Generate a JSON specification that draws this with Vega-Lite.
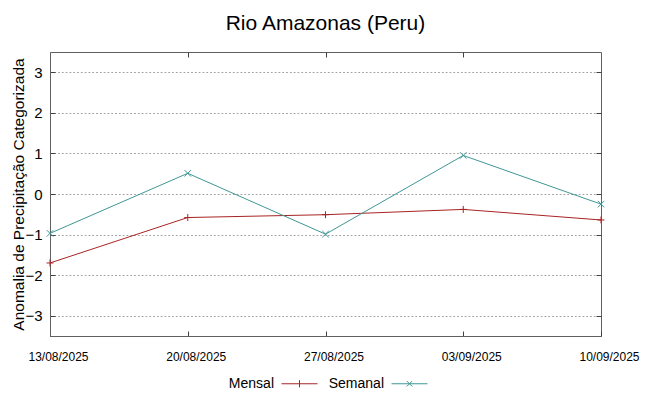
{
  "$schema": "https://vega.github.io/schema/vega-lite/v6.json",
  "width": 551,
  "height": 284,
  "autosize": {"type": "none"},
  "padding": {"left": 50, "top": 52, "right": 48, "bottom": 60},
  "background": "white",
  "title": {"text": "Rio Amazonas (Peru)", "fontSize": 21, "font": "Liberation Sans", "fontWeight": "normal", "color": "black", "anchor": "middle", "baseline": "alphabetic", "frame": "group", "offset": 1},
  "data": {"values": [
    {"date": "2025-08-13", "serie": "Mensal", "value": -1.70},
    {"date": "2025-08-20", "serie": "Mensal", "value": -0.58},
    {"date": "2025-08-27", "serie": "Mensal", "value": -0.51},
    {"date": "2025-09-03", "serie": "Mensal", "value": -0.38},
    {"date": "2025-09-10", "serie": "Mensal", "value": -0.64},
    {"date": "2025-08-13", "serie": "Semanal", "value": -0.97},
    {"date": "2025-08-20", "serie": "Semanal", "value": 0.51},
    {"date": "2025-08-27", "serie": "Semanal", "value": -0.99},
    {"date": "2025-09-03", "serie": "Semanal", "value": 0.95},
    {"date": "2025-09-10", "serie": "Semanal", "value": -0.25}
  ]},
  "config": {
    "view": {"stroke": "#606060", "strokeWidth": 1},
    "font": "Liberation Sans",
    "axis": {"domainColor": "#606060", "tickColor": "#404040", "labelColor": "black", "titleColor": "black", "labelFont": "Liberation Sans", "titleFont": "Liberation Sans", "titleFontWeight": "normal"}
  },
  "layer": [
    {
      "mark": {"type": "line", "strokeWidth": 1},
      "encoding": {
        "x": {"field": "date", "type": "temporal",
          "scale": {"type": "utc", "domain": [{"year": 2025, "month": 8, "date": 13, "utc": true}, {"year": 2025, "month": 9, "date": 10, "utc": true}]},
          "axis": {"values": [
            {"year": 2025, "month": 8, "date": 13, "utc": true},
            {"year": 2025, "month": 8, "date": 20, "utc": true},
            {"year": 2025, "month": 8, "date": 27, "utc": true},
            {"year": 2025, "month": 9, "date": 3, "utc": true},
            {"year": 2025, "month": 9, "date": 10, "utc": true}],
            "format": "%d/%m/%Y", "title": null, "grid": false, "labelFontSize": 12, "labelOffset": 8,
            "tickSize": -5, "labelPadding": 20, "labelFlush": false, "labelOverlap": false}},
        "y": {"field": "value", "type": "quantitative",
          "scale": {"domain": [-3.5, 3.5], "nice": false, "zero": false},
          "axis": {"values": [-3, -2, -1, 0, 1, 2, 3], "title": "Anomalia de Precipitação Categorizada", "titleFontSize": 15.5, "labelFontSize": 15,
            "tickSize": -5, "labelPadding": 13, "grid": true, "gridDash": [1.8, 2], "gridColor": "#a0a0a0", "titlePadding": -2}},
        "color": {"field": "serie", "type": "nominal",
          "scale": {"domain": ["Mensal", "Semanal"], "range": ["#a82424", "#3f9797"]},
          "legend": {"title": null, "orient": "none", "legendX": 231, "legendY": 313, "direction": "horizontal",
            "symbolSize": 1296, "symbolStrokeWidth": 1, "symbolType": "stroke",
            "labelAlign": "right", "labelOffset": -44, "labelFontSize": 14, "labelFont": "Liberation Sans", "labelColor": "black",
            "columnPadding": 8,
            "encode": {"symbols": {"update": {"shape": {"signal": "datum.value === 'Mensal' ? 'M-1,0H1M0,-0.2V0.2' : 'M-1,0H1M-0.15,-0.15L0.15,0.15M-0.15,0.15L0.15,-0.15'"}}}}}}
      }
    },
    {
      "transform": [{"filter": "datum.serie === 'Mensal'"}],
      "mark": {"type": "point", "filled": false, "strokeWidth": 1, "size": 49, "opacity": 1, "shape": "M-1,0H1M0,-1V1"},
      "encoding": {
        "x": {"field": "date", "type": "temporal",
          "axis": {"orient": "top", "values": [
            {"year": 2025, "month": 8, "date": 20, "utc": true},
            {"year": 2025, "month": 8, "date": 27, "utc": true},
            {"year": 2025, "month": 9, "date": 3, "utc": true}],
            "labels": false, "title": null, "grid": false, "tickSize": -5, "domain": false}},
        "y": {"field": "value", "type": "quantitative",
          "axis": {"orient": "right", "values": [-3, -2, -1, 0, 1, 2, 3], "labels": false, "title": null, "grid": false, "tickSize": -5, "domain": false}},
        "color": {"field": "serie", "type": "nominal"}
      }
    },
    {
      "transform": [{"filter": "datum.serie === 'Semanal'"}],
      "mark": {"type": "point", "filled": false, "strokeWidth": 1, "size": 42, "opacity": 1, "shape": "M-1,-1L1,1M-1,1L1,-1"},
      "encoding": {
        "x": {"field": "date", "type": "temporal", "axis": null},
        "y": {"field": "value", "type": "quantitative", "axis": null},
        "color": {"field": "serie", "type": "nominal"}
      }
    }
  ],
  "resolve": {"axis": {"x": "independent", "y": "independent"}}
}
